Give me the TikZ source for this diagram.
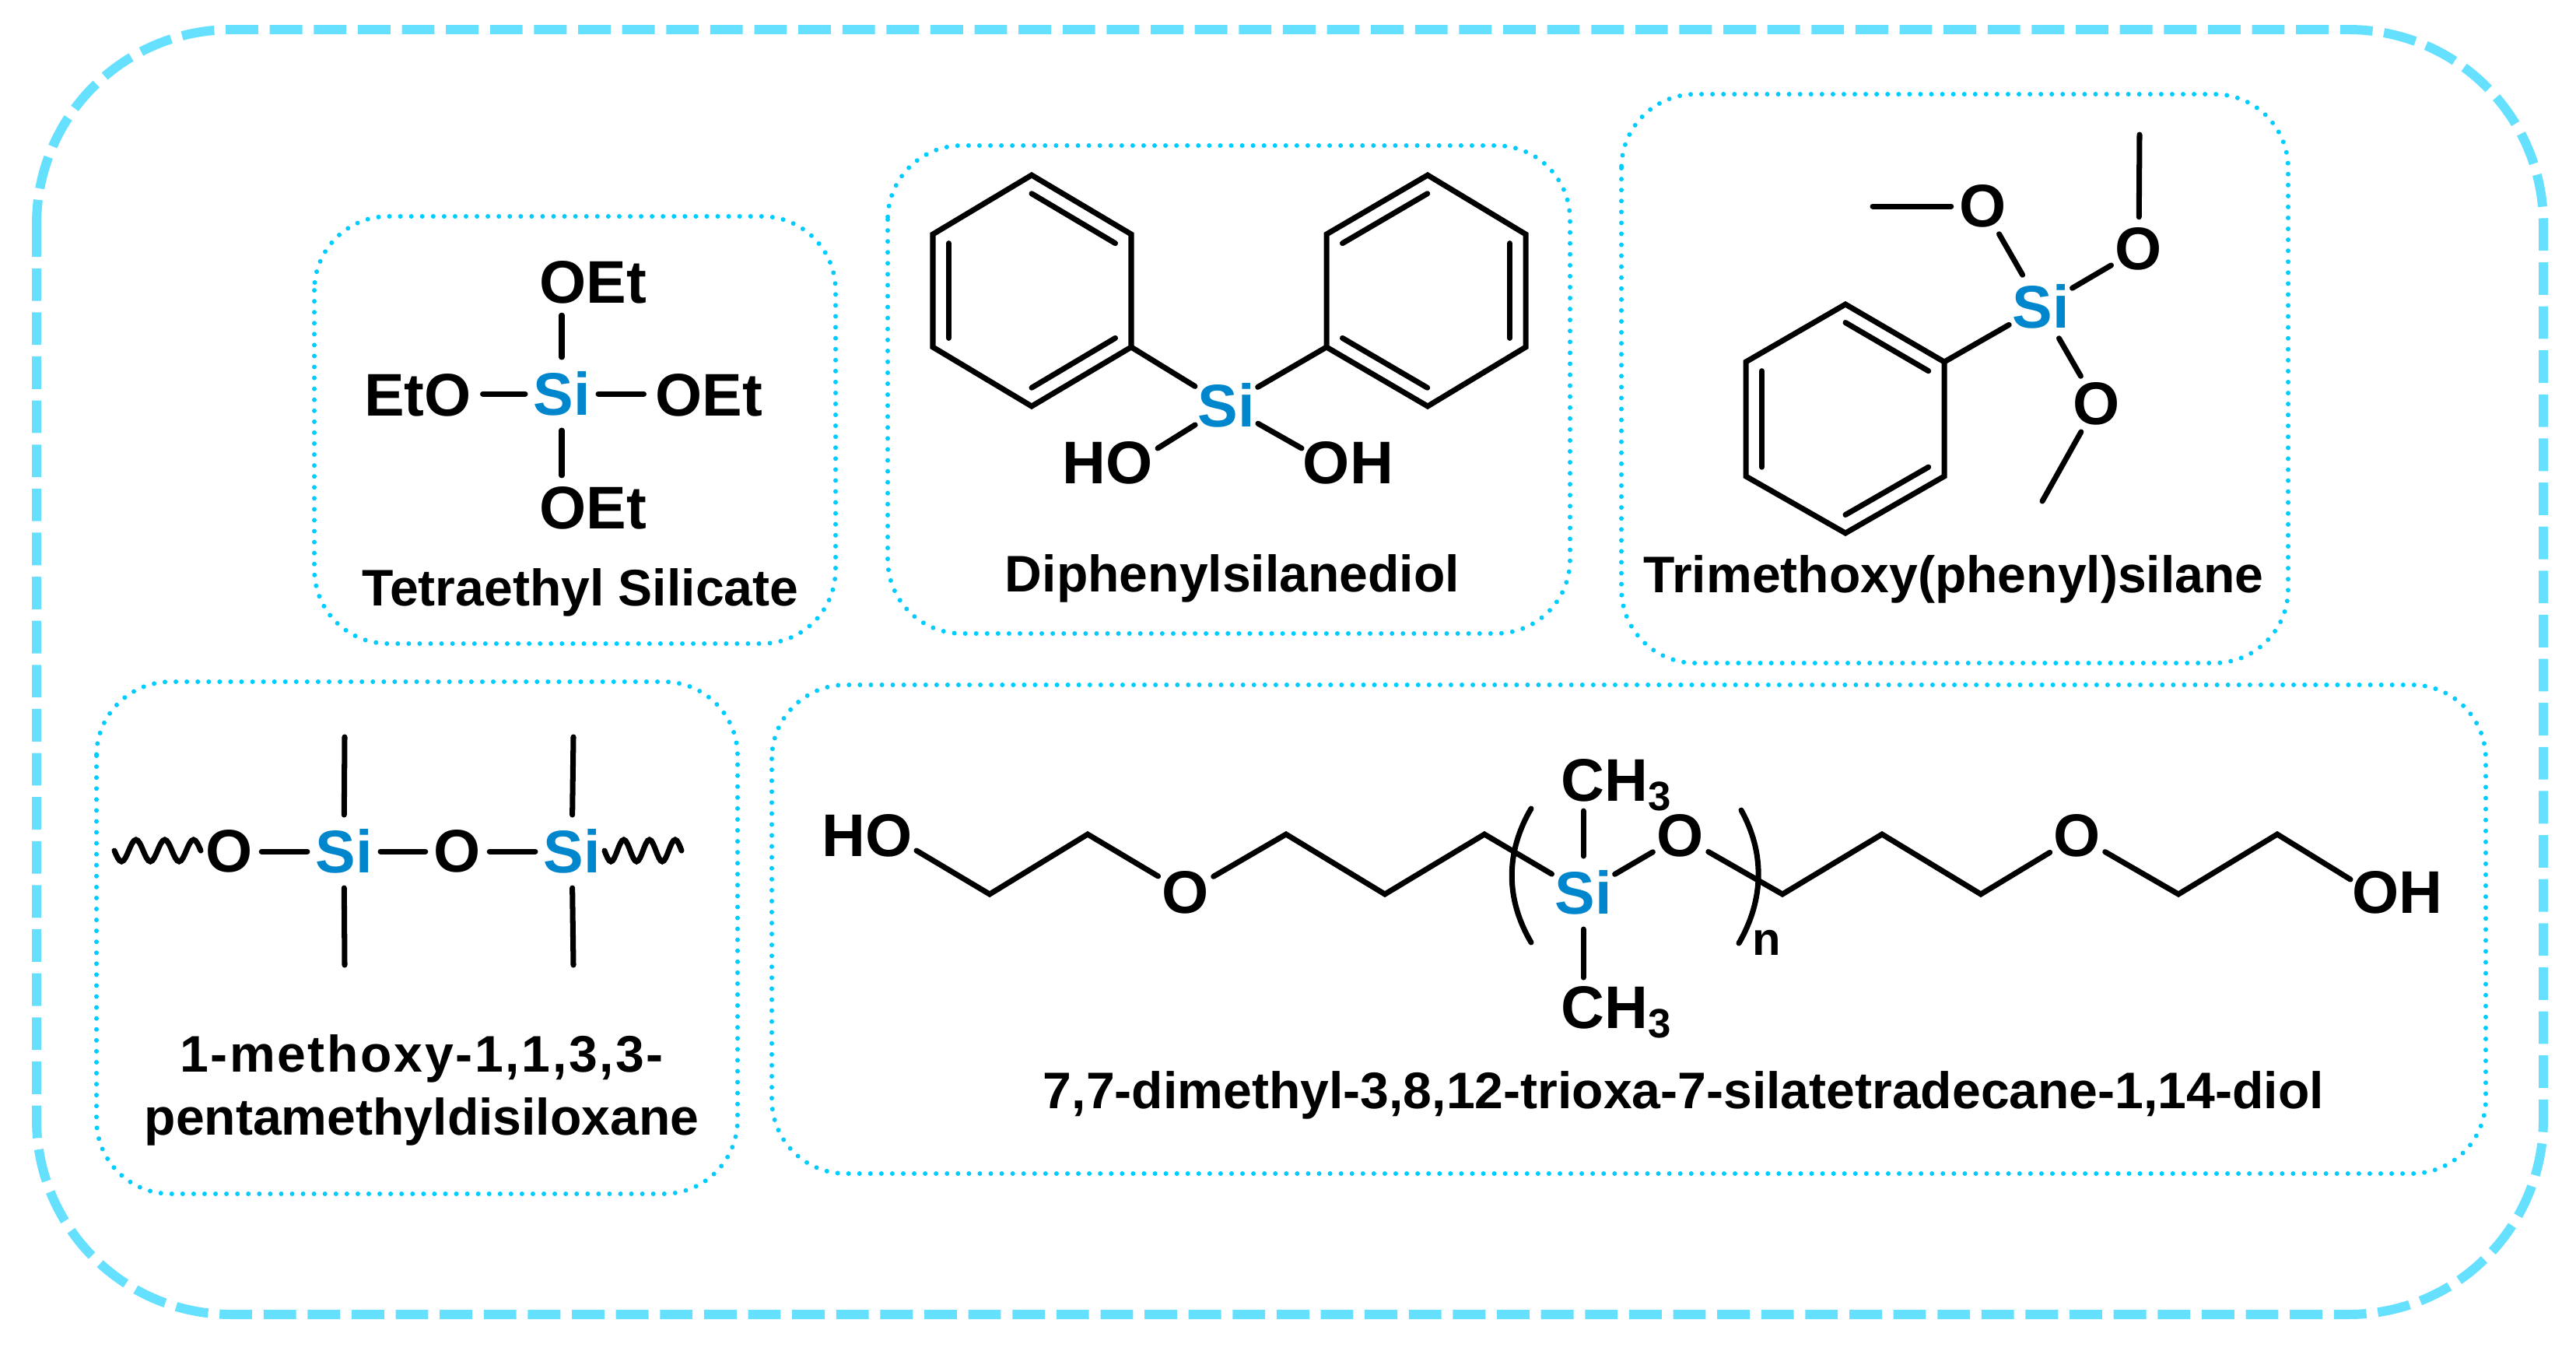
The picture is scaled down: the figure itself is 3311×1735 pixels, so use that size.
\documentclass[tikz,border=0pt]{standalone}
\usepackage{fontspec}
\setmainfont{Liberation Sans}
\usetikzlibrary{calc}
\definecolor{outercyan}{RGB}{102,224,255}
\definecolor{panelcyan}{RGB}{0,204,255}
\definecolor{siblue}{RGB}{0,134,204}
\tikzset{
  outerbox/.style={draw=outercyan,line width=3.4pt,dash pattern=on 11.9pt off 4.2pt,rounded corners=2.5cm},
  panel/.style={draw=panelcyan,line width=1.7pt,line cap=round,dash pattern=on 0pt off 4pt,rounded corners=0.95cm},
  bond/.style={line width=2pt,line cap=round},
  atom/.style={circle,inner sep=0pt,font=\fontsize{22}{26}\bfseries\selectfont},
  siatom/.style={atom,text=siblue},
  group/.style={inner sep=4pt,font=\fontsize{22}{26}\bfseries\selectfont},
  caption/.style={inner sep=0pt,align=center,font=\fontsize{18.8}{23}\bfseries\selectfont}
}
\begin{document}
\begin{tikzpicture}[x=0.01cm,y=-0.01cm]
  \useasboundingbox (0,0) rectangle (3311,1735);
  \draw[outerbox] (47,38) rectangle (3269,1689);
  \begin{scope}
    \draw[panel] (404,278) rectangle (1074,827);
    \node (tsi) [siatom] at (722,506) {Si};
    \node (toa) [group] at (762,363) {OEt};
    \node (tob) [group] at (537,508) {EtO};
    \node (toc) [group] at (911,508) {OEt};
    \node (tod) [group] at (762,653) {OEt};
    \draw[bond] (tsi) -- (tsi |- toa.south);
    \draw[bond] (tsi) -- (tsi -| tob.east);
    \draw[bond] (tsi) -- (tsi -| toc.west);
    \draw[bond] (tsi) -- (tsi |- tod.north);
    \node (tname) [caption,anchor=base] at (746,778) {Tetraethyl Silicate};
  \end{scope}
  \begin{scope}
    \draw[panel] (1141,187) rectangle (2018,814);
    \coordinate (la) at (1326,225);
    \coordinate (lb) at (1454,301);
    \coordinate (lc) at (1454,446);
    \coordinate (ld) at (1326,522);
    \coordinate (le) at (1199,446);
    \coordinate (lf) at (1199,301);
    \coordinate (lm) at (1326,373.5);
    \coordinate (ra) at (1835,225);
    \coordinate (rb) at (1961,301);
    \coordinate (rc) at (1961,446);
    \coordinate (rd) at (1835,522);
    \coordinate (re) at (1705,446);
    \coordinate (rf) at (1705,301);
    \coordinate (rm) at (1833,373.5);
    \draw[bond] (la) -- (lb) -- (lc) -- (ld) -- (le) -- (lf) -- cycle;
    \draw[bond] (ra) -- (rb) -- (rc) -- (rd) -- (re) -- (rf) -- cycle;
    \draw[bond] ($(la)!.16!(lm)$) -- ($(lb)!.16!(lm)$);
    \draw[bond] ($(lc)!.16!(lm)$) -- ($(ld)!.16!(lm)$);
    \draw[bond] ($(le)!.16!(lm)$) -- ($(lf)!.16!(lm)$);
    \draw[bond] ($(ra)!.16!(rm)$) -- ($(rf)!.16!(rm)$);
    \draw[bond] ($(rb)!.16!(rm)$) -- ($(rc)!.16!(rm)$);
    \draw[bond] ($(rd)!.16!(rm)$) -- ($(re)!.16!(rm)$);
    \node (dsi) [siatom] at (1576,521) {Si};
    \node (dho) [group] at (1424,595) {HO};
    \node (doh) [group] at (1733,595) {OH};
    \coordinate (dhoe) at (1488,576);
    \coordinate (dohe) at (1673,576);
    \draw[bond] (lc) -- (dsi);
    \draw[bond] (re) -- (dsi);
    \draw[bond] (dsi) -- (dhoe);
    \draw[bond] (dsi) -- (dohe);
    \node (dname) [caption,anchor=base] at (1584,760) {Diphenylsilanediol};
  \end{scope}
  \begin{scope}
    \draw[panel] (2084,121) rectangle (2941,852);
    \coordinate (pa) at (2372,391);
    \coordinate (pb) at (2499,465);
    \coordinate (pc) at (2499,612);
    \coordinate (pd) at (2372,685);
    \coordinate (pe) at (2244,612);
    \coordinate (pf) at (2244,465);
    \coordinate (pm) at (2372,538);
    \draw[bond] (pa) -- (pb) -- (pc) -- (pd) -- (pe) -- (pf) -- cycle;
    \draw[bond] ($(pa)!.16!(pm)$) -- ($(pb)!.16!(pm)$);
    \draw[bond] ($(pc)!.16!(pm)$) -- ($(pd)!.16!(pm)$);
    \draw[bond] ($(pe)!.16!(pm)$) -- ($(pf)!.16!(pm)$);
    \node (msi) [siatom] at (2623,394) {Si};
    \node (moa) [atom] at (2549,265) {O};
    \node (mob) [atom] at (2749,320) {O};
    \node (moc) [atom] at (2695,519) {O};
    \coordinate (mea) at (2407,265);
    \coordinate (meb) at (2750,173);
    \coordinate (mec) at (2625,644);
    \draw[bond] (pb) -- (msi);
    \draw[bond] (msi) -- (moa);
    \draw[bond] (msi) -- (mob);
    \draw[bond] (msi) -- (moc);
    \draw[bond] (moa) -- (mea);
    \draw[bond] (mob) -- (meb);
    \draw[bond] (moc) -- (mec);
    \node (mname) [caption,anchor=base] at (2511,761) {Trimethoxy(phenyl)silane};
  \end{scope}
  \begin{scope}
    \draw[panel] (124,876) rectangle (948,1534);
    \node (soa) [atom] at (295,1094) {O};
    \node (ssa) [siatom] at (442,1094) {Si};
    \node (sob) [atom] at (588,1094) {O};
    \node (ssb) [siatom] at (735,1094) {Si};
    \coordinate (saup) at (443,947);
    \coordinate (sadn) at (443,1240);
    \coordinate (sbup) at (737,947);
    \coordinate (sbdn) at (737,1240);
    \coordinate (swa) at (147,1093);
    \coordinate (swb) at (777,1093);
    \draw[bond] (soa) -- (ssa);
    \draw[bond] (ssa) -- (sob);
    \draw[bond] (sob) -- (ssb);
    \draw[bond] (ssa) -- (saup);
    \draw[bond] (ssa) -- (sadn);
    \draw[bond] (ssb) -- (sbup);
    \draw[bond] (ssb) -- (sbdn);
    \draw[bond] (swa) foreach \i in {1,2,3} { sin ++(9.25,14) cos ++(9.25,-14) sin ++(9.25,-14) cos ++(9.25,14) };
    \draw[bond] (swb) foreach \i in {1,2,3} { sin ++(8.25,14) cos ++(8.25,-14) sin ++(8.25,-14) cos ++(8.25,14) };
    \node (sname) [caption] at (542,1401) {\addfontfeature{LetterSpace=4}1-methoxy-1,1,3,3-\\\addfontfeature{LetterSpace=0}pentamethyldisiloxane};
  \end{scope}
  \begin{scope}
    \draw[panel] (992,880) rectangle (3195,1508);
    \node (cho) [group] at (1115,1074) {HO};
    \node (coa) [atom] at (1524,1147) {O};
    \node (csi) [siatom] at (2035,1147) {Si};
    \node (cob) [atom] at (2160,1074) {O};
    \node (coc) [atom] at (2670,1074) {O};
    \node (coh) [group] at (3081,1147) {OH};
    \node (cma) [group,inner sep=0pt,anchor=base west] at (2006,1029) {CH\raisebox{-0.16em}{\fontsize{15}{15}\selectfont 3}};
    \node (cmb) [group,inner sep=0pt,anchor=base west] at (2006,1321) {CH\raisebox{-0.16em}{\fontsize{15}{15}\selectfont 3}};
    \coordinate (cha) at (1178,1093);
    \coordinate (chb) at (1272,1149);
    \coordinate (chc) at (1398,1072);
    \coordinate (chd) at (1653,1072);
    \coordinate (che) at (1780,1149);
    \coordinate (chf) at (1908,1072);
    \coordinate (chg) at (2291,1149);
    \coordinate (chh) at (2419,1072);
    \coordinate (chi) at (2546,1149);
    \coordinate (chj) at (2800,1149);
    \coordinate (chk) at (2927,1072);
    \coordinate (chl) at (3021,1130);
    \coordinate (cup) at (2035,1042);
    \coordinate (cdn) at (2035,1256);
    \draw[bond] (cha) -- (chb) -- (chc) -- (coa);
    \draw[bond] (coa) -- (chd) -- (che) -- (chf) -- (csi);
    \draw[bond] (csi) -- (cob);
    \draw[bond] (cob) -- (chg) -- (chh) -- (chi) -- (coc);
    \draw[bond] (coc) -- (chj) -- (chk) -- (chl);
    \draw[bond] (csi) -- (cup);
    \draw[bond] (csi) -- (cdn);
    \coordinate (bla) at (1968,1039);
    \coordinate (blb) at (1968,1211);
    \coordinate (bra) at (2238,1041);
    \coordinate (brb) at (2235,1212);
    \draw[bond] (bla) .. controls (1935,1095) and (1935,1155) .. (blb);
    \draw[bond] (bra) .. controls (2268,1095) and (2268,1155) .. (brb);
    \node (cn) [group,inner sep=0pt,font=\fontsize{17}{20}\bfseries\selectfont] at (2271,1211) {n};
    \node (cname) [caption,anchor=base] at (2164,1424) {7,7-dimethyl-3,8,12-trioxa-7-silatetradecane-1,14-diol};
  \end{scope}
\end{tikzpicture}
\end{document}
